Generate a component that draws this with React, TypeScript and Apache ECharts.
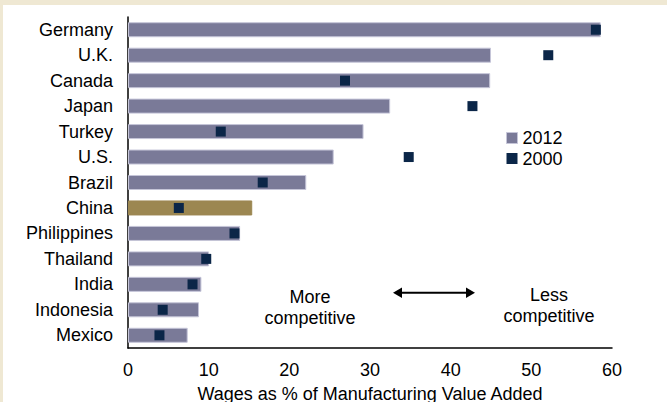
import React, { useEffect, useRef } from "react";
import * as echarts from "echarts";

const categories = [
  "Germany", "U.K.", "Canada", "Japan", "Turkey", "U.S.", "Brazil",
  "China", "Philippines", "Thailand", "India", "Indonesia", "Mexico",
];
const values2012 = [58.6, 45.0, 44.9, 32.5, 29.2, 25.5, 22.1, 15.4, 13.9, 10.05, 9.1, 8.8, 7.4];
const values2000 = [58.0, 52.1, 26.9, 42.7, 11.5, 34.8, 16.7, 6.3, 13.2, 9.7, 8.0, 4.3, 3.9];
const xTicks = { min: 0, max: 60, interval: 10 };
const highlight = "China";

const FONT = "'Liberation Sans', Arial, sans-serif";
const BAR = "#7a7a98";
const BAR_BORDER = "#c5c5d8";
const CHINA = "#9c8751";
const MARK = "#0b2648";

export default function App() {
  const ref = useRef<HTMLDivElement>(null);
  useEffect(() => {
    const chart = echarts.init(ref.current!, null, { renderer: "svg" });
    chart.setOption({
      animation: false,
      backgroundColor: "#ffffff",
      textStyle: { fontFamily: FONT },
      grid: { left: 128, right: 55, top: 17, bottom: 54, containLabel: false, outerBoundsMode: "none" },
      legend: {
        orient: "vertical",
        left: 506,
        top: 129,
        padding: 0,
        itemWidth: 11,
        itemHeight: 11,
        itemGap: 2.5,
        textStyle: { fontSize: 18, color: "#000", fontFamily: FONT, lineHeight: 18, padding: [0, 0, 0, 0] },
        data: [
          { name: "2012", icon: "rect", itemStyle: { color: BAR, borderColor: BAR_BORDER, borderWidth: 1 } },
          { name: "2000", icon: "rect", itemStyle: { color: MARK } },
        ],
      },
      xAxis: {
        type: "value",
        min: xTicks.min,
        max: xTicks.max,
        interval: xTicks.interval,
        splitLine: { show: false },
        axisLine: { show: true, lineStyle: { color: "#000", width: 1.5 } },
        axisTick: { show: false },
        axisLabel: { fontSize: 18, color: "#000", margin: 13, fontFamily: FONT },
        name: "Wages as % of Manufacturing Value Added",
        nameLocation: "middle",
        nameGap: 37,
        nameTextStyle: { fontSize: 18, color: "#000", fontFamily: FONT },
      },
      yAxis: {
        type: "category",
        data: categories,
        inverse: true,
        axisLine: { show: true, lineStyle: { color: "#000", width: 1.5 } },
        axisTick: { show: false },
        axisLabel: { fontSize: 18, color: "#000", margin: 15, fontFamily: FONT },
      },
      series: [
        {
          name: "2012",
          type: "bar",
          barWidth: 15,
          data: values2012.map((v, i) => ({
            value: v,
            itemStyle: {
              color: categories[i] === highlight ? CHINA : BAR,
              borderColor: categories[i] === highlight ? CHINA : BAR_BORDER,
              borderWidth: 1,
            },
          })),
          itemStyle: { color: BAR, borderColor: BAR_BORDER, borderWidth: 1 },
          z: 2,
        },
        {
          name: "2000",
          type: "scatter",
          symbol: "rect",
          symbolSize: 10,
          data: values2000.map((v, i) => [v, categories[i]]),
          itemStyle: { color: MARK, opacity: 1 },
          z: 3,
        },
      ],
      graphic: [
        {
          type: "text",
          x: 310,
          y: 286,
          style: {
            text: "More\ncompetitive",
            font: `18px ${FONT}`,
            fill: "#000",
            align: "center",
            verticalAlign: "top",
            lineHeight: 21,
          },
        },
        {
          type: "text",
          x: 549,
          y: 284.5,
          style: {
            text: "Less\ncompetitive",
            font: `18px ${FONT}`,
            fill: "#000",
            align: "center",
            verticalAlign: "top",
            lineHeight: 21,
          },
        },
        {
          type: "line",
          shape: { x1: 400, y1: 292.7, x2: 468, y2: 292.7 },
          style: { stroke: "#000", lineWidth: 2 },
        },
        {
          type: "polygon",
          shape: { points: [[393, 292.7], [402, 287.5], [402, 298]] },
          style: { fill: "#000" },
        },
        {
          type: "polygon",
          shape: { points: [[475, 292.7], [466, 287.5], [466, 298]] },
          style: { fill: "#000" },
        },
      ],
    });
    return () => chart.dispose();
  }, []);

  return (
    <div
      style={{
        position: "fixed",
        left: 0,
        top: 0,
        width: 667,
        height: 402,
        background: "#efe8d3",
        overflow: "hidden",
      }}
    >
      <div
        ref={ref}
        style={{ position: "absolute", left: 0, top: 0, width: 667, height: 402, clipPath: "inset(5px 0 0 3px)" }}
      />
    </div>
  );
}
